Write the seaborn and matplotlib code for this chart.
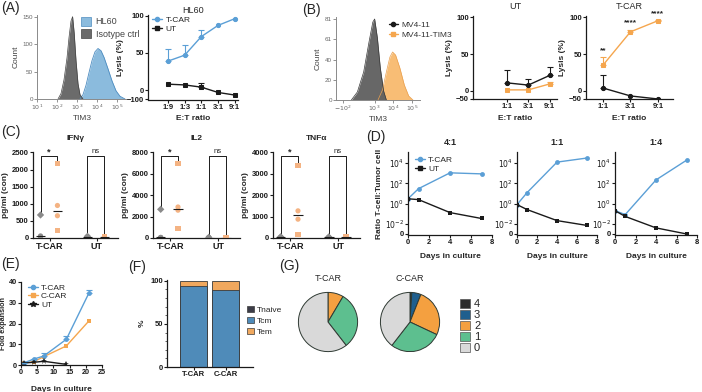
import numpy as np
import pandas as pd
import matplotlib
matplotlib.use("Agg")
import matplotlib.pyplot as plt
import seaborn as sns
from matplotlib.lines import Line2D
from matplotlib.patches import Patch
from matplotlib.ticker import MultipleLocator, NullLocator

# ---------------- data ----------------
# (A) TIM3 histograms (x as log10 intensity)
hl60_log = [3.15, 3.3, 3.45, 3.6, 3.75, 3.9, 4.05, 4.2, 4.35, 4.55, 4.75, 4.95, 5.15, 5.4]
hl60_count = [0, 8, 25, 48, 70, 86, 92, 88, 76, 55, 33, 15, 5, 0]
iso_log = [2.05, 2.2, 2.35, 2.5, 2.6, 2.7, 2.78, 2.86, 2.95, 3.05, 3.15, 3.3]
iso_count = [0, 10, 35, 75, 112, 142, 150, 120, 70, 28, 8, 0]

# (A) lysis of HL60
et_a = ["1:9", "1:3", "1:1", "3:1", "9:1"]
a_tcar = [39, 47, 72, 87, 96]
a_tcar_err = [16, 14, 9, 0, 0]
a_ut = [8, 7, 4, -26, -55]
a_ut_err = [0, 0, 5, 0, 0]

# (B) TIM3 histograms (linear intensity)
mv_x = [30, 120, 260, 500, 800, 1000, 1400, 2000, 3000, 4200]
mv_count = [0, 8, 28, 58, 78, 81, 62, 32, 9, 0]
tim_x = [1500, 2600, 4200, 6500, 9000, 13000, 22000, 38000, 65000, 110000]
tim_count = [0, 10, 28, 43, 48, 45, 32, 15, 4, 0]

# (B) lysis
et_b = ["1:1", "3:1", "9:1"]
b_ut_mv = [11, 8, 21]
b_ut_mv_err = [18, 8, 11]
b_ut_tim = [1.5, 1.5, 9.5]
b_ut_tim_err = [0, 0, 2]
b_t_mv = [4, -31, -50]
b_t_mv_err = [17, 0, 0]
b_t_tim = [35, 80, 95]
b_t_tim_err = [11, 3, 1]
b_stars = ["**", "****", "****"]

# (C) cytokines, 4 donors per group
groups_c = ["T-CAR", "UT"]
cytokines = ["IFNγ", "IL2", "TNFα"]
ifng_tcar_ctrl = [673, 60, 40, 20]
ifng_tcar_tim = [2170, 950, 650, 230]
ifng_ut_ctrl = [50, 35, 20, 10]
ifng_ut_tim = [40, 30, 20, 15]
il2_tcar_ctrl = [2680, 60, 40, 30]
il2_tcar_tim = [6930, 2900, 2600, 920]
il2_ut_ctrl = [60, 50, 40, 30]
il2_ut_tim = [60, 40, 30, 20]
tnfa_tcar_ctrl = [60, 40, 30, 20]
tnfa_tcar_tim = [3400, 1270, 880, 150]
tnfa_ut_ctrl = [50, 40, 30, 20]
tnfa_ut_tim = [50, 40, 30, 20]
c_ymax = [2500, 8000, 4000]
c_sig = [["*", "ns"], ["*", "ns"], ["*", "ns"]]

# (D) ratio T-cell : tumor cell
ratios_d = ["4:1", "1:1", "1:4"]
days_d = [0, 1, 4, 7]
d_tcar = [[3, 30, 1100, 870], [0.8, 12, 12600, 32000], [0.2, 0.083, 220, 20000]]
d_ut = [[3, 2.5, 0.13, 0.034], [0.8, 0.26, 0.021, 0.007], [0.2, 0.054, 0.004, 0.001]]

# (E) fold expansion
days_e = [1, 4, 7, 14, 21]
e_tcar = [1.1, 2.9, 4.3, 12.4, 34.8]
e_tcar_err = [0, 0, 1.7, 1.6, 1.3]
e_ccar = [1.0, 1.6, 4.0, 9.2, 21.3]
days_e_ut = [1, 4, 7, 14]
e_ut = [1.0, 1.3, 1.8, 0.3]

# (F) memory phenotype
f_groups = ["T-CAR", "C-CAR"]
f_tnaive = [0.5, 0.5]
f_tcm = [94, 89]
f_tem = [5.5, 10.5]

# (G) pies
pie_keys = ["4", "3", "2", "1", "0"]
pie_tcar = [0, 0, 8.5, 31, 60.5]
pie_ccar = [1, 5, 26, 28.5, 39.5]

# ---------------- style ----------------
BLUE = "#5b9fd6"
ORANGE = "#f5a64e"
PEACH = "#f4b383"
GREYPT = "#8a8a8a"
BLACK = "#1a1a1a"

sns.set_theme(style="ticks")
plt.rcParams['font.family'] = ['Liberation Sans', 'DejaVu Sans']
plt.rcParams['font.size'] = 6
plt.rcParams['axes.linewidth'] = 0.9
plt.rcParams['axes.edgecolor'] = BLACK

fig = plt.figure(figsize=(7.02, 3.92), dpi=100)
W, H = 702, 392


def box(l, t, r, b):
    return fig.add_axes([l / W, 1 - b / H, (r - l) / W, (b - t) / H])


def prism(ax, size=5.5):
    sns.despine(ax=ax)
    ax.tick_params(labelsize=size, width=0.8, length=2, pad=1, colors=BLACK)
    plt.setp(ax.get_xticklabels() + ax.get_yticklabels(), fontweight='bold')


def hist_style(ax):
    sns.despine(ax=ax)
    for s in ["left", "bottom"]:
        ax.spines[s].set_color("#8a8a8a")
        ax.spines[s].set_linewidth(0.7)
    ax.tick_params(labelsize=4.5, width=0.5, length=2, pad=1, colors="#666666")
    ax.tick_params(which='minor', width=0.4, length=1, colors="#888888")


def up_err(ax, vals, errs, color):
    idx = [i for i, e in enumerate(errs) if e > 0]
    if idx:
        ax.errorbar(idx, [vals[i] for i in idx],
                    yerr=[[0] * len(idx), [errs[i] for i in idx]],
                    fmt='none', ecolor=color, elinewidth=0.8, capsize=2, capthick=0.8)


def broken(k):
    return (lambda y: np.where(y < 0, y * k, y), lambda y: np.where(y < 0, y / k, y))


def panel_label(x, y, s):
    fig.text(x / W, 1 - y / H, s, fontsize=10, va='top', ha='left')


# ---------------- (A) histogram ----------------
ax = box(37, 15, 127, 99)
ax.set_xscale('log')
ax.fill_between(10 ** np.array(hl60_log), hl60_count, color="#8bbbdd", lw=0)
ax.plot(10 ** np.array(hl60_log), hl60_count, color="#4d8cc0", lw=0.6)
ax.fill_between(10 ** np.array(iso_log), iso_count, color="#6b6b6b", lw=0)
ax.plot(10 ** np.array(iso_log), iso_count, color="#444444", lw=0.5)
ax.set_xlim(10, 10 ** 5.5)
ax.set_ylim(0, 153)
ax.set_xticks([10, 100, 1e3, 1e4, 1e5], ["$10^1$", "$10^2$", "$10^3$", "$10^4$", "$10^5$"])
ax.set_yticks([0, 50, 100, 150])
hist_style(ax)
ax.set_ylabel("Count", fontsize=6, color="#444444", labelpad=2)
ax.set_xlabel("TIM3", fontsize=6, color="#444444", labelpad=2)
ax.legend(handles=[Patch(fc="#8bbbdd", ec="#4d8cc0", lw=0.5, label="HL60"),
                   Patch(fc="#6b6b6b", ec="#444444", lw=0.5, label="Isotype ctrl")],
          loc='upper left', bbox_to_anchor=(0.44, 1.03), frameon=False, fontsize=6.5,
          handlelength=1.1, handleheight=1.1, handletextpad=0.5, labelspacing=0.3,
          borderpad=0, labelcolor="#444444")

# ---------------- (A) lysis ----------------
ax = box(148, 15, 238, 99.5)
ax.set_yscale('function', functions=broken(0.12))
sns.pointplot(x=et_a, y=a_tcar, order=et_a, color=BLUE, markers='o', markersize=3,
              linewidth=1, errorbar=None, ax=ax)
sns.pointplot(x=et_a, y=a_ut, order=et_a, color=BLACK, markers='s', markersize=3,
              linewidth=1, errorbar=None, ax=ax)
up_err(ax, a_tcar, a_tcar_err, BLUE)
up_err(ax, a_ut, a_ut_err, BLACK)
ax.set_xlim(-1.2, 4.2)
ax.set_ylim(-105, 101)
ax.set_yticks([-100, 0, 50, 100])
prism(ax)
ax.set_xlabel("E:T ratio", fontsize=6, fontweight='bold', labelpad=3)
ax.set_ylabel("Lysis (%)", fontsize=6, fontweight='bold', labelpad=2)
ax.set_title("HL60", fontsize=6.5, pad=1)
ax.legend(handles=[Line2D([], [], color=BLUE, marker='o', ms=3, lw=1, label="T-CAR"),
                   Line2D([], [], color=BLACK, marker='s', ms=3, lw=1, label="UT")],
          loc='upper left', bbox_to_anchor=(0.0, 1.04), frameon=False, fontsize=6,
          handlelength=1.2, handletextpad=0.4, labelspacing=0.15, borderpad=0)

# ---------------- (B) histogram ----------------
ax = box(336, 17, 420, 100)
ax.set_xscale('symlog', linthresh=100, linscale=0.31)
ax.fill_between(tim_x, tim_count, color="#f8bd75", lw=0)
ax.plot(tim_x, tim_count, color="#e9a050", lw=0.5)
ax.fill_between(mv_x, mv_count, color="#5f5f5f", lw=0, alpha=0.95)
ax.plot(mv_x, mv_count, color="#3a3a3a", lw=0.5)
ax.set_xlim(-234, 2.6e5)
ax.set_ylim(0, 83)
ax.set_xticks([-100, 1e3, 1e4, 1e5], ["$-10^2$", "$10^3$", "$10^4$", "$10^5$"])
ax.xaxis.set_minor_locator(NullLocator())
ax.set_yticks([0, 20, 40, 61, 81])
hist_style(ax)
ax.set_ylabel("Count", fontsize=6, color="#444444", labelpad=2)
ax.set_xlabel("TIM3", fontsize=6, color="#444444", labelpad=2)
ax.legend(handles=[Line2D([], [], color=BLACK, marker='o', ms=3, lw=1, label="MV4-11"),
                   Line2D([], [], color=ORANGE, marker='s', ms=3, lw=1, label="MV4-11-TIM3")],
          loc='upper left', bbox_to_anchor=(0.58, 1.0), frameon=False, fontsize=6,
          handlelength=1.1, handletextpad=0.4, labelspacing=0.3, borderpad=0,
          labelcolor="#333333")

# ---------------- (B) lysis UT / T-CAR ----------------
for (l, r), title, mv, mv_err, tim, tim_err, xl in [
        ((473, 557), "UT", b_ut_mv, b_ut_mv_err, b_ut_tim, b_ut_tim_err, (-1.6, 2.35)),
        ((586, 673), "T-CAR", b_t_mv, b_t_mv_err, b_t_tim, b_t_tim_err, (-0.62, 2.55))]:
    ax = box(l, 16.3, r, 99.3)
    ax.set_yscale('function', functions=broken(0.216))
    sns.pointplot(x=et_b, y=tim, order=et_b, color=ORANGE, markers='s', markersize=3,
                  linewidth=1, errorbar=None, ax=ax)
    sns.pointplot(x=et_b, y=mv, order=et_b, color=BLACK, markers='o', markersize=3,
                  linewidth=1, errorbar=None, ax=ax)
    up_err(ax, tim, tim_err, ORANGE)
    up_err(ax, mv, mv_err, BLACK)
    ax.set_xlim(*xl)
    ax.set_ylim(-52, 101)
    ax.set_yticks([-50, 0, 50, 100])
    prism(ax)
    ax.set_xlabel("E:T ratio", fontsize=6, fontweight='bold', labelpad=3)
    ax.set_ylabel("Lysis (%)", fontsize=6, fontweight='bold', labelpad=2)
    ax.set_title(title, fontsize=6.5, pad=5)
    if title == "T-CAR":
        for i, s in enumerate(b_stars):
            ax.text(i, tim[i] + tim_err[i] + 4, s, ha='center', va='bottom',
                    fontsize=6, fontweight='bold')

# ---------------- (C) cytokines ----------------
c_data = [
    [ifng_tcar_ctrl, ifng_tcar_tim, ifng_ut_ctrl, ifng_ut_tim],
    [il2_tcar_ctrl, il2_tcar_tim, il2_ut_ctrl, il2_ut_tim],
    [tnfa_tcar_ctrl, tnfa_tcar_tim, tnfa_ut_ctrl, tnfa_ut_tim],
]
ctrl_shapes = ["D", "o", "o", "o"]
tim_shapes = ["s", "o", "o", "s"]
offs = {"ctrl": -0.2, "tim": 0.16}
for k, (l, r) in enumerate([(33, 118), (153, 240), (273, 360)]):
    ax = box(l, 152, r, 238)
    rows = []
    sets = [("T-CAR", "ctrl"), ("T-CAR", "tim"), ("UT", "ctrl"), ("UT", "tim")]
    for (grp, tgt), vals in zip(sets, c_data[k]):
        shapes = ctrl_shapes if tgt == "ctrl" else tim_shapes
        for v, m in zip(vals, shapes):
            rows.append({"pos": groups_c.index(grp) + offs[tgt], "val": v,
                         "target": tgt, "shape": m})
    df = pd.DataFrame(rows)
    sns.scatterplot(data=df, x="pos", y="val", hue="target", style="shape",
                    palette={"ctrl": GREYPT, "tim": PEACH},
                    markers={"D": "D", "o": "o", "s": "s"}, s=14, linewidth=0,
                    legend=False, ax=ax, zorder=3)
    # medians
    for (grp, tgt), vals in zip(sets, c_data[k]):
        p = groups_c.index(grp) + offs[tgt]
        ax.hlines(np.median(vals), p - 0.1, p + 0.1, color=BLACK, lw=0.8, zorder=4)
    # brackets
    top = c_ymax[k] * 0.955
    for gi, grp in enumerate(groups_c):
        lo_c = max(c_data[k][gi * 2]) + c_ymax[k] * 0.03
        lo_t = max(c_data[k][gi * 2 + 1]) + c_ymax[k] * 0.03
        x1, x2 = gi + offs["ctrl"], gi + offs["tim"]
        ax.plot([x1, x1, x2, x2], [lo_c, top, top, lo_t], color=BLACK, lw=0.7)
        sig = c_sig[k][gi]
        ax.text((x1 + x2) / 2, top + c_ymax[k] * (0.0 if sig == "*" else 0.02), sig,
                ha='center', va='bottom', fontsize=6.5 if sig == "*" else 5.5,
                fontweight='bold' if sig == "*" else 'normal')
    ax.set_xlim(-0.36, 1.45)
    ax.set_ylim(0, c_ymax[k] * 1.005)
    ax.set_xticks([0, 1], groups_c)
    ax.set_yticks(np.linspace(0, c_ymax[k], 6 if k == 0 else 5))
    prism(ax)
    ax.set_xlabel("")
    ax.set_ylabel("pg/ml (con)", fontsize=6, fontweight='bold', labelpad=2)
    ax.set_title(cytokines[k], fontsize=6, fontweight='bold', pad=9)
    ax.tick_params(axis='x', labelsize=6.5)

# ---------------- (D) ratio over time ----------------
for k, (l, r) in enumerate([(408, 492), (517, 597), (615, 697)]):
    ax = box(l, 152, r, 235)
    ax.set_yscale('log')
    sns.lineplot(x=days_d, y=d_tcar[k], color=BLUE, marker='o', markersize=3.5,
                 markeredgewidth=0, linewidth=1, ax=ax)
    sns.lineplot(x=days_d, y=d_ut[k], color=BLACK, marker='s', markersize=3.5,
                 markeredgewidth=0, linewidth=1, ax=ax)
    ax.set_xlim(0, 8)
    ax.set_ylim(10 ** -3.1, 10 ** 5.1)
    ax.set_xticks([0, 2, 4, 6, 8])
    ax.set_yticks([1e-3, 1e-2, 1, 1e2, 1e4], ["0", "$10^{-2}$", "$10^0$", "$10^2$", "$10^4$"])
    ax.yaxis.set_minor_locator(NullLocator())
    prism(ax)
    ax.set_xlabel("Days in culture", fontsize=6, fontweight='bold', labelpad=5)
    ax.set_title(ratios_d[k], fontsize=6.5, fontweight='bold', pad=5)
    if k == 0:
        ax.set_ylabel("Ratio T-cell:Tumor cell", fontsize=6, fontweight='bold', labelpad=1)
        ax.legend(handles=[Line2D([], [], color=BLUE, marker='o', ms=3, lw=1, label="T-CAR"),
                           Line2D([], [], color=BLACK, marker='s', ms=3, lw=1, label="UT")],
                  loc='upper left', bbox_to_anchor=(0.03, 1.0), frameon=False, fontsize=6,
                  handlelength=1.2, handletextpad=0.4, labelspacing=0.1, borderpad=0)

# ---------------- (E) fold expansion ----------------
ax = box(21, 282, 102, 365)
sns.lineplot(x=days_e, y=e_ccar, color=ORANGE, marker='s', markersize=3.5,
             markeredgewidth=0, linewidth=1, ax=ax)
sns.lineplot(x=days_e, y=e_tcar, color=BLUE, marker='o', markersize=3.5,
             markeredgewidth=0, linewidth=1, ax=ax)
sns.lineplot(x=days_e_ut, y=e_ut, color=BLACK, marker='*', markersize=4.5,
             markeredgewidth=0, linewidth=1, ax=ax)
ax.errorbar(days_e, e_tcar, yerr=[[0] * len(e_tcar), e_tcar_err], fmt='none',
            ecolor=BLUE, elinewidth=0.8, capsize=2, capthick=0.8)
ax.set_xlim(0, 25)
ax.set_ylim(0, 40)
ax.set_xticks([0, 5, 10, 15, 20, 25])
ax.set_yticks([0, 10, 20, 30, 40])
prism(ax, size=5.2)
ax.set_xlabel("Days in culture", fontsize=6, fontweight='bold', labelpad=7)
ax.set_ylabel("Fold expansion", fontsize=5.2, fontweight='bold')
ax.yaxis.set_label_coords(-0.175, 0.5)
ax.legend(handles=[Line2D([], [], color=BLUE, marker='o', ms=3, lw=1, label="T-CAR"),
                   Line2D([], [], color=ORANGE, marker='s', ms=3, lw=1, label="C-CAR"),
                   Line2D([], [], color=BLACK, marker='*', ms=4, lw=1, label="UT")],
          loc='upper left', bbox_to_anchor=(0.03, 1.03), frameon=False, fontsize=6,
          handlelength=1.2, handletextpad=0.4, labelspacing=0.1, borderpad=0)

# ---------------- (F) stacked bars ----------------
ax = box(167, 280, 253, 367)
tcm_top = [a + b for a, b in zip(f_tnaive, f_tcm)]
tem_top = [a + b for a, b in zip(tcm_top, f_tem)]
TNAIVE_C, TCM_C, TEM_C = "#3c3c48", "#4f8bb9", "#f0a85e"
sns.barplot(x=f_groups, y=tem_top, color=TEM_C, width=0.84, saturation=1,
            edgecolor="#3a3a3a", linewidth=0.6, ax=ax)
sns.barplot(x=f_groups, y=tcm_top, color=TCM_C, width=0.84, saturation=1,
            edgecolor="#3a3a3a", linewidth=0.6, ax=ax)
sns.barplot(x=f_groups, y=f_tnaive, color=TNAIVE_C, width=0.84, saturation=1,
            edgecolor="#3a3a3a", linewidth=0.6, ax=ax)
ax.set_xlim(-0.83, 1.86)
ax.set_ylim(0, 101)
ax.set_yticks([0, 50, 100])
ax.yaxis.set_minor_locator(MultipleLocator(10))
prism(ax)
ax.tick_params(which='minor', length=1.2, width=0.5)
ax.set_ylabel("%", fontsize=6, fontweight='bold', labelpad=3)
ax.legend(handles=[Patch(fc=TNAIVE_C, ec="#3a3a3a", lw=0.5, label="Tnaive"),
                   Patch(fc=TCM_C, ec="#3a3a3a", lw=0.5, label="Tcm"),
                   Patch(fc=TEM_C, ec="#3a3a3a", lw=0.5, label="Tem")],
          loc='upper left', bbox_to_anchor=(0.88, 0.75), frameon=False, fontsize=6,
          handlelength=0.8, handleheight=0.8, handletextpad=0.4, labelspacing=0.35,
          borderpad=0)

# ---------------- (G) pies ----------------
PIE_C = ["#2b2b2b", "#1f5f8e", "#f4a040", "#5dbf8f", "#d9d9d9"]
for (l, t, r, b), vals, title in [((291, 285, 365, 359), pie_tcar, "T-CAR"),
                                  ((373, 285, 447, 359), pie_ccar, "C-CAR")]:
    ax = box(l, t, r, b)
    ax.pie(vals, colors=PIE_C, startangle=90, counterclock=False,
           wedgeprops=dict(edgecolor="#2f3a33", linewidth=0.7))
    ax.set_aspect('equal')
    ax.set_title(title, fontsize=6.5, pad=3)
fig.legend(handles=[Patch(fc=c, ec="#555555", lw=0.5, label=lab) for c, lab in zip(PIE_C, pie_keys)],
           loc='upper left', bbox_to_anchor=(454 / W, 1 - 293 / H), frameon=False,
           fontsize=8, handlelength=0.9, handleheight=0.9, handletextpad=0.4,
           labelspacing=0.05, borderpad=0)

# ---------------- panel labels ----------------
panel_label(1, 1, "(A)")
panel_label(302, 3, "(B)")
panel_label(1, 125, "(C)")
panel_label(366, 130, "(D)")
panel_label(1, 257, "(E)")
panel_label(128, 260, "(F)")
panel_label(279, 259, "(G)")

plt.savefig("out.png", dpi=100)
